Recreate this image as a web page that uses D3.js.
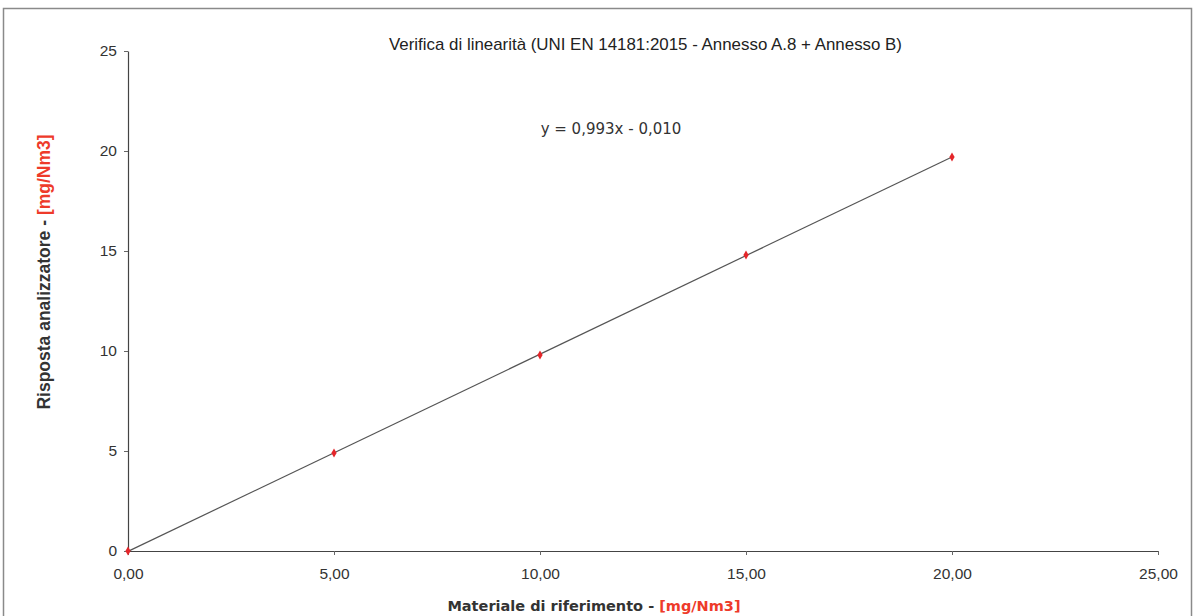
<!DOCTYPE html>
<html>
<head>
<meta charset="utf-8">
<script src="https://cdn.jsdelivr.net/npm/d3@7"></script>
<style>
  body { margin: 0; background: #fff; }
  svg { display: block; }
</style>
</head>
<body>
<div id="chart"></div>
<script>
// data
var refValues = [0, 5, 10, 15, 20];          // Materiale di riferimento
var respValues = [0, 4.9, 9.8, 14.8, 19.7];   // Risposta analizzatore
var xTicks = [0, 5, 10, 15, 20, 25];
var yTicks = [0, 5, 10, 15, 20, 25];
var title = "Verifica di linearità (UNI EN 14181:2015 - Annesso A.8 + Annesso B)";
var eqLabel = "y = 0,993x - 0,010";

var W = 1196, H = 616;
var margin = {top: 51, right: 38, bottom: 65, left: 128};
var width = W - margin.left - margin.right,
    height = H - margin.top - margin.bottom;

var svg = d3.select("#chart").append("svg")
    .attr("width", W)
    .attr("height", H);

// frame
svg.append("rect")
    .attr("x", 3.5).attr("y", 8.5)
    .attr("width", W - 8).attr("height", H)
    .attr("fill", "none")
    .attr("stroke", "#8a8a8a")
    .attr("stroke-width", 1.5);

var x = d3.scaleLinear().domain([0, 25]).range([0, width]),
    y = d3.scaleLinear().domain([0, 25]).range([height, 0]);

var g = svg.append("g")
    .attr("transform", "translate(" + margin.left + "," + margin.top + ")");

var fmtComma = function (d) { return d3.format(".2f")(d).replace(".", ","); };

var xAxis = d3.axisBottom(x).tickValues(xTicks).tickFormat(fmtComma).tickSize(4).tickSizeOuter(0),
    yAxis = d3.axisLeft(y).tickValues(yTicks).tickFormat(d3.format("d")).tickSize(4).tickSizeOuter(0);

var gx = g.append("g")
    .attr("transform", "translate(0," + height + ")")
    .call(xAxis);
var gy = g.append("g").call(yAxis);

[gx, gy].forEach(function (a) {
    a.attr("font-size", null).attr("font-family", null);
    a.select(".domain").attr("stroke", "#444").attr("stroke-width", 1.2);
    a.selectAll(".tick line").attr("stroke", "#666");
    a.selectAll(".tick text")
        .attr("fill", "#333")
        .style("font-family", "'Liberation Sans', Arial, sans-serif")
        .style("font-size", "15.5px");
});
gx.selectAll(".tick text").attr("y", 12).attr("dy", "1em");
gy.selectAll(".tick text").attr("x", -11);

// least squares trend line through the points
var mx = d3.mean(refValues),
    my = d3.mean(respValues);
var sxy = d3.sum(refValues, function (d, i) { return (d - mx) * (respValues[i] - my); }),
    sxx = d3.sum(refValues, function (d) { return (d - mx) * (d - mx); });
var slope = sxy / sxx, intercept = my - slope * mx;
var x0 = d3.min(refValues), x1 = d3.max(refValues);

g.append("line")
    .attr("x1", x(x0)).attr("y1", y(slope * x0 + intercept))
    .attr("x2", x(x1)).attr("y2", y(slope * x1 + intercept))
    .attr("stroke", "#555")
    .attr("stroke-width", 1.2);

g.selectAll(".pt")
    .data(refValues)
    .enter().append("path")
    .attr("class", "pt")
    .attr("d", d3.symbol().type(d3.symbolDiamond).size(24))
    .attr("transform", function (d, i) {
        return "translate(" + x(d) + "," + y(respValues[i]) + ")";
    })
    .attr("fill", "#e4262a");

// title
svg.append("text")
    .attr("x", 389).attr("y", 50)
    .attr("textLength", 513)
    .attr("lengthAdjust", "spacingAndGlyphs")
    .style("font-family", "'Liberation Sans', Arial, sans-serif")
    .style("font-size", "17px")
    .attr("fill", "#222")
    .text(title);

// equation
svg.append("text")
    .attr("x", 611).attr("y", 134)
    .attr("text-anchor", "middle")
    .style("font-family", "'DejaVu Sans', Verdana, sans-serif")
    .style("font-size", "15px")
    .attr("fill", "#333")
    .text(eqLabel);

// x axis label
var xl = svg.append("text")
    .attr("x", 594).attr("y", 611)
    .attr("text-anchor", "middle")
    .style("font-family", "'DejaVu Sans', Verdana, sans-serif")
    .style("font-size", "14.5px")
    .style("font-weight", "bold")
    .attr("fill", "#333");
xl.append("tspan").text("Materiale di riferimento - ");
xl.append("tspan").attr("fill", "#ee3a2a").text("[mg/Nm3]");

// y axis label
var yl = svg.append("text")
    .attr("transform", "translate(50,272) rotate(-90)")
    .attr("text-anchor", "middle")
    .style("font-family", "'Liberation Sans', Arial, sans-serif")
    .style("font-size", "17.5px")
    .style("font-weight", "bold")
    .attr("fill", "#333");
yl.append("tspan").text("Risposta analizzatore - ");
yl.append("tspan").attr("fill", "#ee3a2a").text("[mg/Nm3]");
</script>
</body>
</html>
